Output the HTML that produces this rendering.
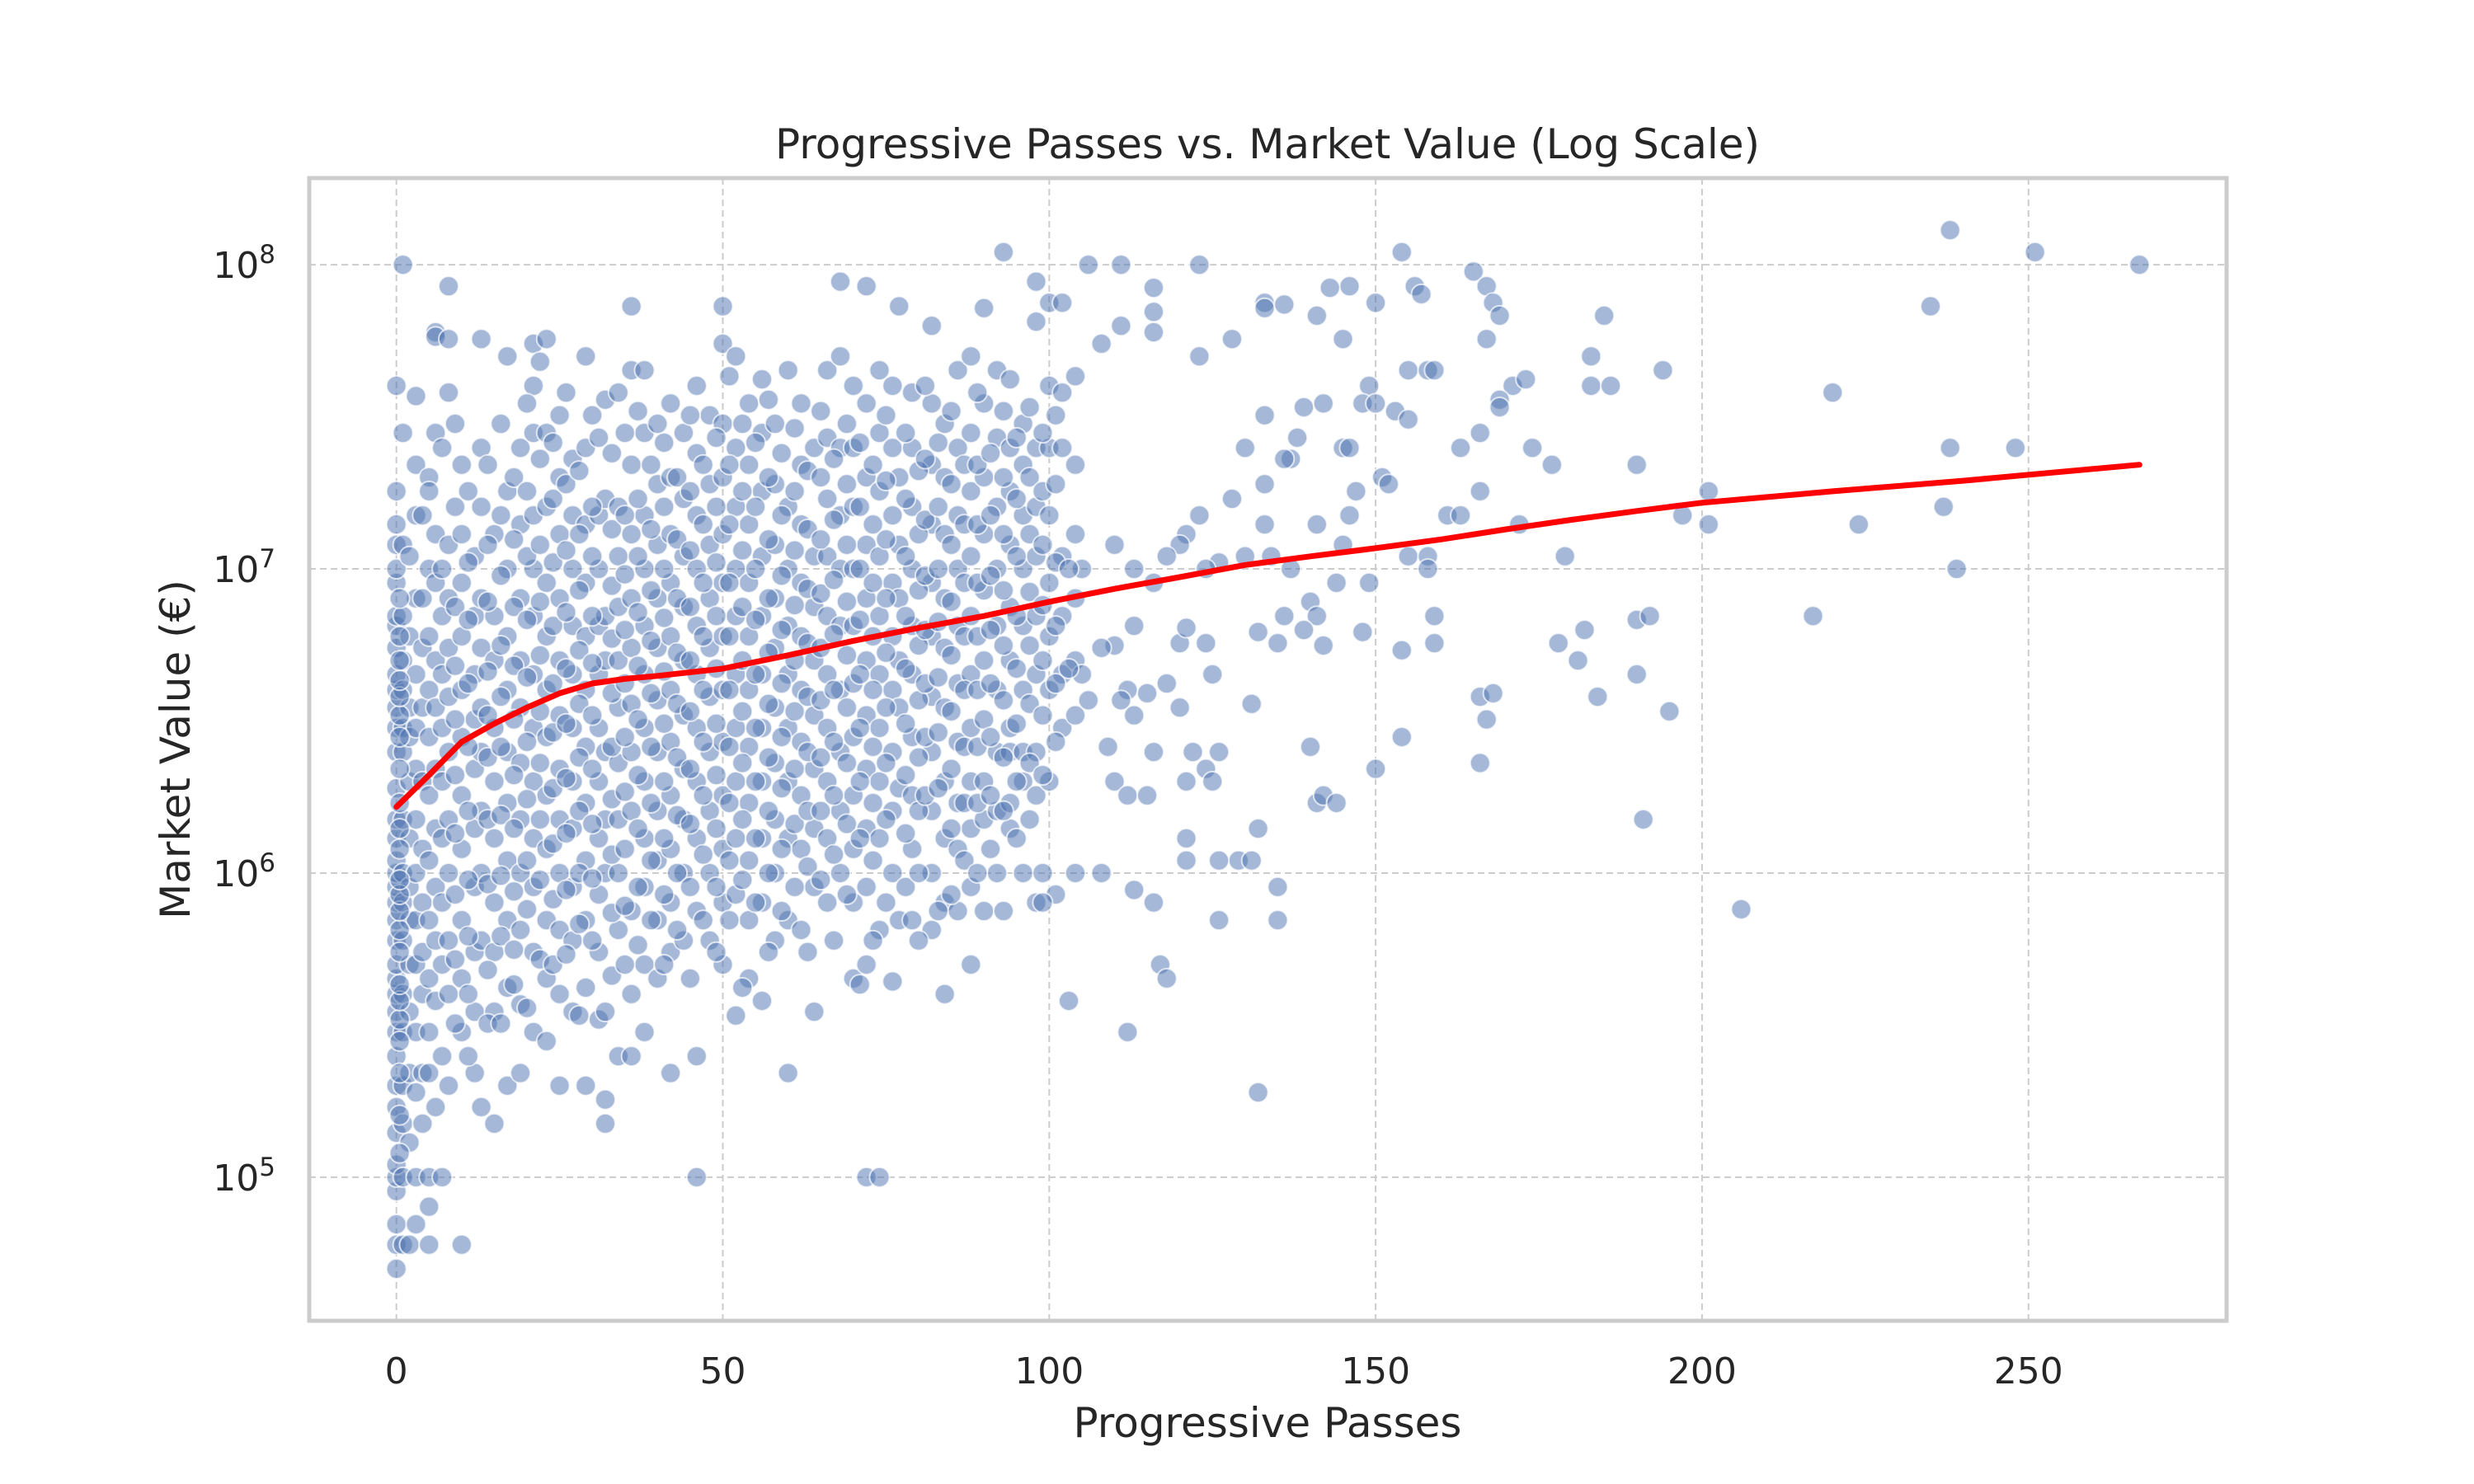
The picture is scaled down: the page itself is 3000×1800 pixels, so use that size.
<!DOCTYPE html>
<html><head><meta charset="utf-8"><title>Progressive Passes vs. Market Value</title>
<style>html,body{margin:0;padding:0;background:#fff}svg{display:block}text{font-family:"DejaVu Sans","Liberation Sans",sans-serif;fill:#262626}</style>
</head><body>
<svg id="chart" width="3000" height="1800" viewBox="0 0 3000 1800" xmlns="http://www.w3.org/2000/svg">
<rect x="0" y="0" width="3000" height="1800" fill="#fff"/>
<g id="grid"></g>
<g id="points"></g>
<g id="trend"></g>
<rect x="375" y="216" width="2325" height="1386" fill="none" stroke="#cccccc" stroke-width="5"/>
<g id="ticks"></g>
<text x="1537" y="192" font-size="50" text-anchor="middle">Progressive Passes vs. Market Value (Log Scale)</text>
<text x="1537" y="1743" font-size="50" text-anchor="middle">Progressive Passes</text>
<text x="0" y="0" font-size="50" text-anchor="middle" transform="translate(230,909) rotate(-90)">Market Value (€)</text>
</svg>
<script>
const xTicks = [0, 50, 100, 150, 200, 250];
const yTickExps = [5, 6, 7, 8];
const densePasses = [0,1,2,3,4,5,6,7,8,10,12,13,15,17,19,21,23,25,27,29,31,32,34,36,38,40,42,44,46,48,50,52,54,56,58,60,62,64,66,68,70,72,74,76,77,79,82,84,86,88,90,92,94,96,98,100,102];
const denseValues = [
[5e4,6e4,7e4,9e4,1e5,1.1e5,1.4e5,1.7e5,2e5,2.5e5,3e5,3.5e5,4e5,4.5e5,5e5,6e5,7e5,8e5,9e5,1e6,1.1e6,1.3e6,1.5e6,1.9e6,2.5e6,3e6,3.5e6,4e6,4.5e6,5.5e6,6.5e6,7e6,9e6,1e7,1.2e7,1.4e7,1.8e7,4e7],
[1e8,2.8e7,1.2e7,7e6,5e6,4e6,3e6,2.5e6,1.5e6,1e6,8e5,6e5,4e5,3e5,2e5,1.5e5,1e5,6e4],
[1.1e7,6e6,3.5e6,2.8e6,2e6,1.3e6,9e5,7e5,5e5,3.5e5,2.2e5,1.3e5,6e4],
[3.7e7,2.2e7,1.5e7,8e6,4.5e6,3e6,2.2e6,1.5e6,1e6,7e5,5e5,3e5,1.9e5,1e5,7e4],
[1.5e7,8e6,5.5e6,3.5e6,2e6,1.2e6,8e5,5.5e5,4e5,2.2e5,1.5e5],
[2e7,1.8e7,1e7,6e6,4e6,2.8e6,1.8e6,1.1e6,7e5,4.5e5,3e5,2.2e5,1e5,8e4,6e4],
[6e7,5.8e7,2.8e7,1.3e7,9e6,5e6,3.5e6,2.2e6,1.4e6,9e5,6e5,3.8e5,1.7e5],
[2.5e7,1e7,7e6,4.5e6,3e6,2e6,1.3e6,8e5,5e5,2.5e5,1e5],
[8.5e7,5.7e7,3.8e7,1.2e7,8e6,5.5e6,3.8e6,2.5e6,1.5e6,1e6,6e5,4e5,2e5],
[2.2e7,1.3e7,9e6,6e6,4e6,2.8e6,1.8e6,1.2e6,7e5,4.5e5,3e5,6e4],
[1.1e7,7e6,4.5e6,3.2e6,2.2e6,1.4e6,9e5,5.5e5,3.5e5,2.2e5],
[5.7e7,2.5e7,1.6e7,8e6,5.5e6,3.5e6,2.5e6,1.6e6,1e6,6e5,1.7e5],
[1.3e7,7e6,5e6,3e6,2e6,1.3e6,8e5,5.5e5,3.5e5,1.5e5],
[5e7,1.8e7,1e7,6e6,4e6,2.5e6,1.7e6,1.1e6,7e5,4.2e5,2e5],
[2.5e7,1.4e7,8e6,5e6,3.5e6,2.3e6,1.5e6,1e6,6.5e5,3.7e5,2.2e5],
[5.5e7,4e7,2.8e7,1.5e7,1e7,7e6,4.5e6,3e6,2e6,1.3e6,9e5,5.5e5,3e5],
[5.7e7,2.8e7,1.6e7,9e6,6e6,4e6,2.8e6,1.8e6,1.2e6,7e5,4.5e5,2.8e5],
[3.2e7,2e7,1.3e7,8e6,5e6,3.3e6,2.2e6,1.5e6,1e6,6.5e5,4e5,2e5],
[2.3e7,1.5e7,1e7,6.5e6,4.5e6,3e6,2e6,1.4e6,9e5,6e5,3.5e5],
[5e7,2.5e7,1.4e7,9e6,6e6,4e6,2.6e6,1.7e6,1.1e6,7e5,4.2e5,2e5],
[2.7e7,1.5e7,1e7,6.5e6,4.5e6,3e6,2e6,1.3e6,8.5e5,5.5e5,3.3e5],
[3.6e7,1.7e7,7e6,5e6,2.5e6,1.5e6,1e6,3.5e5,1.8e5,1.5e5],
[3.8e7,1.6e7,1.1e7,7.5e6,5e6,3.5e6,2.3e6,1.5e6,1e6,6.5e5,2.5e5],
[7.3e7,4.5e7,2.2e7,1.3e7,8e6,5.5e6,3.6e6,2.5e6,1.6e6,7.5e5,4e5,2.5e5],
[4.5e7,2.8e7,1.5e7,1e7,6.5e6,4.5e6,3e6,2e6,1.3e6,9e5,5e5,3e5],
[3e7,1.9e7,1.2e7,8e6,5.5e6,3.7e6,2.5e6,1.6e6,1.1e6,7e5,4.5e5],
[3.5e7,2e7,1.3e7,9e6,6e6,4e6,2.7e6,1.8e6,1.2e6,8e5,5.5e5,2.2e5],
[2.8e7,1.7e7,1.1e7,7.5e6,5e6,3.3e6,2.2e6,1.5e6,1e6,6e5],
[4e7,2.4e7,1.5e7,1e7,6.5e6,4.5e6,3e6,2e6,1.3e6,7.5e5,2.5e5,1e5],
[3.2e7,1.9e7,1.2e7,8e6,5.5e6,3.8e6,2.5e6,1.6e6,1e6,6e5],
[7.3e7,5.5e7,3e7,2e7,1.3e7,9e6,6e6,4e6,2.7e6,1.8e6,1.2e6,8e5,5e5],
[5e7,2.5e7,1.6e7,1e7,7e6,4.5e6,3e6,2e6,1.3e6,8.5e5,3.4e5],
[3.5e7,2.2e7,1.4e7,9e6,6e6,4e6,2.6e6,1.7e6,1.1e6,7e5,4.5e5],
[4.2e7,2.8e7,1.8e7,1.1e7,7e6,4.5e6,3e6,2e6,1.3e6,8e5,3.8e5],
[3e7,1.9e7,1.2e7,8e6,5.5e6,3.5e6,2.3e6,1.5e6,1e6,6e5],
[4.5e7,1.6e7,1e7,6.5e6,4.5e6,3e6,2e6,1.3e6,7e5,2.2e5],
[3.5e7,2.2e7,1.4e7,9e6,6e6,4e6,2.7e6,1.8e6,1.2e6,6.5e5],
[2.5e7,1.1e7,7.5e6,5e6,3.3e6,2.2e6,1.4e6,9e5,3.5e5],
[4.5e7,2.7e7,1.7e7,1.1e7,7e6,4.5e6,3e6,2e6,1.3e6,8e5],
[8.8e7,5e7,2.5e7,1.5e7,1e7,6.5e6,4e6,2.5e6,1.6e6,1e6],
[4e7,2.5e7,1.6e7,1e7,6.5e6,4.2e6,2.8e6,1.8e6,1.2e6,8e5,4.5e5],
[8.5e7,3.5e7,2e7,1.2e7,8e6,5e6,3.3e6,2.2e6,1.4e6,9e5,5e5,1e5],
[4.5e7,2.8e7,1.8e7,1.1e7,7e6,4.5e6,3e6,2e6,1.3e6,6.5e5,1e5],
[4e7,2.5e7,1.5e7,9e6,6e6,4e6,2.5e6,1.6e6,1e6,4.4e5],
[7.3e7,2e7,1.2e7,8e6,5e6,3.5e6,1.9e6,7e5],
[3.8e7,2.5e7,1.6e7,1e7,6.5e6,4.5e6,2.8e6,1.8e6,1.2e6,7e5],
[6.3e7,3.5e7,2.2e7,1.4e7,9e6,6e6,3.8e6,2.5e6,1.6e6,1e6,6.5e5],
[3e7,2e7,1.3e7,8e6,5.5e6,3.5e6,2e6,1.3e6,8e5,4e5],
[4.5e7,2.5e7,1.5e7,1e7,6.5e6,4.2e6,2.7e6,1.7e6,1.2e6,7.5e5],
[5e7,2.8e7,1.8e7,1.1e7,7e6,4.5e6,3e6,2e6,1.4e6,9e5,5e5],
[7.2e7,3.5e7,2e7,1.3e7,8.5e6,5e6,3.2e6,2e6,1.5e6,7.5e5],
[4.5e7,2.7e7,1.6e7,1e7,6.5e6,4e6,2.5e6,1.6e6,1e6],
[4.2e7,2.5e7,1.8e7,1.2e7,7.5e6,5e6,3e6,2.5e6,1.7e6,1.4e6],
[3e7,2.2e7,1.5e7,1e7,6.5e6,4e6,2.5e6,2e6,1e6],
[8.8e7,6.5e7,2.5e7,1.6e7,1.1e7,7e6,4.5e6,2.5e6,1.8e6,8e5],
[7.5e7,4e7,2.5e7,1.5e7,9e6,6e6,4e6,2e6],
[7.5e7,3.8e7,2.5e7,1.1e7,7e6,4.5e6,3e6]
];
const midPasses = [0.5,9,11,14,16,18,20,22,24,26,28,30,33,35,37,39,41,43,45,47,49,51,53,55,57,59,61,63,65,67,69,71,73,75,78,80,81,83,85,87,89,91,93,95,97,99,101,104];
const midValues = [
[1.2e5,1.6e5,2.2e5,2.8e5,3.3e5,3.8e5,4.3e5,5.5e5,6.5e5,7.5e5,8.5e5,9.5e5,1.2e6,1.4e6,1.7e6,2.2e6,2.8e6,3.3e6,3.8e6,4.3e6,5e6,6e6,8e6],
[3e7,1.6e7,7.5e6,4.8e6,3.2e6,2.1e6,1.35e6,8.5e5,5.2e5,3.2e5],
[1.8e7,1.05e7,6.8e6,4.2e6,2.6e6,1.6e6,9.5e5,6.2e5,4e5,2.5e5],
[2.2e7,1.2e7,7.8e6,4.6e6,3.3e6,2.4e6,1.5e6,9.2e5,4.8e5,3.2e5],
[3e7,1.5e7,9.5e6,5.6e6,3.8e6,2.6e6,1.55e6,9.8e5,6.2e5,3.2e5],
[2e7,1.25e7,7.5e6,4.8e6,3.2e6,2.1e6,1.4e6,8.7e5,5.6e5,4.3e5],
[3.5e7,1.8e7,1.1e7,6.8e6,4.4e6,2.7e6,1.75e6,1.1e6,7.6e5,3.6e5],
[4.8e7,2.3e7,1.2e7,7.8e6,5.2e6,3.4e6,2.3e6,1.5e6,9.5e5,5.2e5],
[2.6e7,1.7e7,1.05e7,6.5e6,4.2e6,2.9e6,1.9e6,1.25e6,8.2e5,5e5],
[3.8e7,1.9e7,1.15e7,7.2e6,4.7e6,3.1e6,2.05e6,1.35e6,8.8e5,5.4e5],
[2.1e7,1.3e7,8.5e6,5.4e6,3.6e6,2.4e6,1.6e6,1e6,6.8e5,3.4e5],
[3.2e7,1.6e7,1.1e7,7e6,4.9e6,3.3e6,2.2e6,1.45e6,9.6e5,6e5],
[2.4e7,1.35e7,8.8e6,5.9e6,3.9e6,2.6e6,1.75e6,1.15e6,7.4e5,4.6e5],
[2.8e7,1.5e7,9.6e6,6.3e6,4.2e6,2.8e6,1.85e6,1.2e6,7.8e5,5e5],
[3.3e7,1.7e7,1.1e7,7.2e6,4.8e6,3.2e6,2.1e6,1.4e6,9e5,5.8e5],
[2.2e7,1.35e7,8.5e6,5.8e6,3.9e6,2.6e6,1.7e6,1.1e6,7e5],
[2.6e7,1.6e7,1e7,6.9e6,4.6e6,3.1e6,2e6,1.3e6,8.5e5,5e5],
[2e7,1.25e7,8e6,5.3e6,3.6e6,2.4e6,1.55e6,1e6,6.5e5],
[3.2e7,1.8e7,1.15e7,7.5e6,5e6,3.4e6,2.2e6,1.45e6,9e5,4.5e5],
[2.2e7,1.4e7,9e6,6e6,4e6,2.7e6,1.8e6,1.15e6,7e5],
[2.7e7,1.6e7,1.05e7,7e6,4.7e6,3.1e6,2.1e6,1.4e6,9e5,5.5e5],
[4.3e7,2.2e7,1.4e7,9e6,6e6,4e6,2.6e6,1.7e6,1.1e6,7e5],
[3e7,1.8e7,1.15e7,7.5e6,5e6,3.4e6,2.3e6,1.5e6,9.5e5,4.2e5],
[2.6e7,1.6e7,1e7,6.8e6,4.5e6,3e6,2e6,1.3e6,8e5],
[3.6e7,2e7,1.25e7,8e6,5.3e6,3.6e6,2.4e6,1.6e6,1e6,5.5e5],
[2.4e7,1.5e7,9.5e6,6.3e6,4.2e6,2.8e6,1.9e6,1.2e6,7.5e5],
[2.9e7,1.8e7,1.15e7,7.6e6,5e6,3.4e6,2.2e6,1.45e6,9e5],
[2.1e7,1.35e7,8.6e6,5.7e6,3.8e6,2.5e6,1.6e6,1.05e6,5.5e5],
[3.3e7,2e7,1.25e7,8.3e6,5.5e6,3.7e6,2.4e6,1.6e6,9.5e5],
[2.3e7,1.45e7,9.2e6,6.1e6,4e6,2.7e6,1.8e6,1.15e6,6e5],
[3e7,1.9e7,1.2e7,7.8e6,5.2e6,3.5e6,2.3e6,1.45e6,8.5e5],
[2.6e7,1.6e7,1e7,6.8e6,4.5e6,3e6,2e6,1.3e6,4.3e5],
[2.2e7,1.4e7,9e6,6e6,4e6,2.6e6,1.7e6,1.1e6,6e5],
[3.2e7,1.95e7,1.25e7,8e6,5.3e6,3.5e6,2.3e6,1.5e6,8e5],
[2.8e7,1.7e7,1.1e7,7e6,4.7e6,3.1e6,2.1e6,1.35e6,9e5],
[2.1e7,1.3e7,8.5e6,5.6e6,3.7e6,2.4e6,1.6e6,1e6,6e5],
[4e7,2.3e7,1.45e7,9.5e6,6.3e6,4.2e6,2.8e6,1.8e6],
[2.6e7,1.6e7,1e7,6.7e6,4.4e6,2.9e6,1.9e6,7.5e5],
[3.3e7,1.9e7,1.2e7,7.8e6,5.2e6,3.4e6,2.2e6,1.4e6,8.5e5],
[2.2e7,1.4e7,9e6,6e6,4e6,2.6e6,1.7e6,1.1e6],
[3.8e7,2.2e7,1.4e7,9e6,6e6,4e6,2.6e6,1.7e6,1e6],
[2.4e7,1.5e7,9.5e6,6.3e6,4.2e6,2.8e6,1.8e6,1.2e6],
[3.3e7,2e7,1.3e7,8.5e6,5.6e6,3.7e6,2.4e6,1.6e6,7.5e5],
[2.7e7,1.7e7,1.1e7,7e6,4.7e6,3.1e6,2e6,1.3e6],
[3.4e7,2e7,1.3e7,8.4e6,5.6e6,3.6e6,2.3e6,1.5e6],
[2.8e7,1.8e7,1.2e7,7.6e6,5e6,3.3e6,2.1e6,1e6],
[3.2e7,1.9e7,1.05e7,6.5e6,4.2e6,2.7e6],
[4.3e7,2.2e7,1.3e7,8e6,5e6,3.3e6]
];
const sparsePasses = [93,106,111,123,154,165,167,168,169,238,251,267,235,185,156,157,150,146,143,141,133,133,136,116,116,116,111,108,123,128,145,167,183,155,158,159,194,171,173,169,169,183,186,149,220,148,150,153,133,139,142,137,136,138,130,145,146,155,166,163,174,177,190,238,248,151,152,147,133,128,123,166,161,163,172,201,197,201,224,237,239,179,155,158,158,146,145,141,137,133,130,134,126,124,121,120,118,116,113,110,105,103,159,136,140,141,149,144,139,135,142,148,154,159,178,181,182,190,192,217,132,124,120,121,113,110,108,105,103,125,118,115,112,111,106,131,120,113,109,116,122,126,124,125,121,110,112,115,140,150,154,166,167,166,168,184,190,195,191,141,142,144,132,129,131,126,121,121,135,135,126,116,113,108,104,101,99,103,112,117,118,132,206];
const sparseValues = [1.1e8,1e8,1e8,1e8,1.1e8,9.5e7,8.5e7,7.5e7,6.8e7,1.3e8,1.1e8,1e8,7.3e7,6.8e7,8.5e7,8e7,7.5e7,8.5e7,8.4e7,6.8e7,7.5e7,7.2e7,7.4e7,8.4e7,7e7,6e7,6.3e7,5.5e7,5e7,5.7e7,5.7e7,5.7e7,5e7,4.5e7,4.5e7,4.5e7,4.5e7,4e7,4.2e7,3.6e7,3.4e7,4e7,4e7,4e7,3.8e7,3.5e7,3.5e7,3.3e7,3.2e7,3.4e7,3.5e7,2.3e7,2.3e7,2.7e7,2.5e7,2.5e7,2.5e7,3.1e7,2.8e7,2.5e7,2.5e7,2.2e7,2.2e7,2.5e7,2.5e7,2e7,1.9e7,1.8e7,1.9e7,1.7e7,1.5e7,1.8e7,1.5e7,1.5e7,1.4e7,1.8e7,1.5e7,1.4e7,1.4e7,1.6e7,1e7,1.1e7,1.1e7,1.1e7,1e7,1.5e7,1.2e7,1.4e7,1e7,1.4e7,1.1e7,1.1e7,1.05e7,1e7,1.3e7,1.2e7,1.1e7,9e6,1e7,1.2e7,1e7,1e7,7e6,7e6,7.8e6,7e6,9e6,9e6,6.3e6,5.7e6,5.6e6,6.2e6,5.4e6,5.7e6,5.7e6,5e6,6.3e6,6.8e6,7e6,7e6,6.2e6,5.7e6,5.7e6,6.4e6,6.5e6,5.6e6,5.5e6,4.5e6,4.7e6,4.5e6,4.2e6,3.9e6,4e6,3.7e6,3.7e6,3.6e6,3.5e6,3.3e6,2.6e6,2.5e6,2.5e6,2.5e6,2.2e6,2e6,2e6,2e6,1.8e6,1.8e6,2.6e6,2.2e6,2.8e6,2.3e6,3.2e6,3.8e6,3.9e6,3.8e6,4.5e6,3.4e6,1.5e6,1.7e6,1.8e6,1.7e6,1.4e6,1.1e6,1.1e6,1.1e6,1.3e6,1.1e6,9e5,7e5,7e5,8e5,8.8e5,1e6,1e6,8.5e5,8e5,3.8e5,3e5,5e5,4.5e5,1.9e5,7.6e5];
const trendPasses = [0,5,10,15,20,25,30,35,40,50,60,70,80,90,100,110,120,130,140,150,160,170,180,190,200,220,240,267];
const trendValues = [1.65e6,2.1e6,2.7e6,3.1e6,3.5e6,3.9e6,4.2e6,4.35e6,4.45e6,4.7e6,5.2e6,5.8e6,6.4e6,7e6,7.8e6,8.6e6,9.4e6,1.03e7,1.1e7,1.17e7,1.25e7,1.35e7,1.45e7,1.55e7,1.65e7,1.8e7,1.95e7,2.2e7];

const NS = 'http://www.w3.org/2000/svg';
const L = 375, R = 2700, T = 216, B = 1602;
const X0 = -13.35, X1 = 280.35, Y0 = 4.528, Y1 = 8.285;
function xs(v){ return L + (v - X0) / (X1 - X0) * (R - L); }
function ys(v){ return T + (Y1 - Math.log10(v)) / (Y1 - Y0) * (B - T); }
function mk(tag, attrs, parent){ const e = document.createElementNS(NS, tag); for (const k in attrs) e.setAttribute(k, attrs[k]); parent.appendChild(e); return e; }

const grid = document.getElementById('grid');
const ticks = document.getElementById('ticks');
xTicks.forEach(t => {
  const g = mk('line', {x1: xs(t), x2: xs(t), y1: T, y2: B, stroke: '#cccccc', 'stroke-width': 2, 'stroke-dasharray': '8,5'}, grid);
  
  
  const lb = mk('text', {x: xs(t), y: 1678, 'font-size': 44, 'text-anchor': 'middle'}, ticks);
  
  
  lb.textContent = String(t);
});
yTickExps.forEach(e => {
  const y = ys(Math.pow(10, e));
  const g = mk('line', {x1: L, x2: R, y1: y, y2: y, stroke: '#cccccc', 'stroke-width': 2, 'stroke-dasharray': '8,5'}, grid);
  
  
  const lb = mk('text', {x: 334, y: y + 16, 'font-size': 44, 'text-anchor': 'end'}, ticks);
  
  
  const base = document.createElementNS(NS, 'tspan'); base.textContent = '10'; lb.appendChild(base);
  const sup = document.createElementNS(NS, 'tspan'); sup.setAttribute('dy', '-18'); sup.setAttribute('font-size', '31'); sup.textContent = String(e); lb.appendChild(sup);
});

const pts = document.getElementById('points');
function dot(x, v){
  const c = mk('circle', {cx: xs(x), cy: ys(v), r: 12, fill: 'rgba(76,114,176,0.5)', stroke: 'rgba(255,255,255,0.7)', 'stroke-width': 2}, pts);
  
  
}
densePasses.forEach((x, i) => denseValues[i].forEach(v => dot(x, v)));
midPasses.forEach((x, i) => midValues[i].forEach(v => dot(x, v)));
sparsePasses.forEach((x, i) => dot(x, sparseValues[i]));

const d = trendPasses.map((x, i) => (i ? 'L' : 'M') + xs(x).toFixed(1) + ',' + ys(trendValues[i]).toFixed(1)).join(' ');
const tl = mk('path', {d: d, fill: 'none', stroke: '#ff0000', 'stroke-width': 7, 'stroke-linejoin': 'round', 'stroke-linecap': 'round'}, document.getElementById('trend'));


</script>
</body></html>
